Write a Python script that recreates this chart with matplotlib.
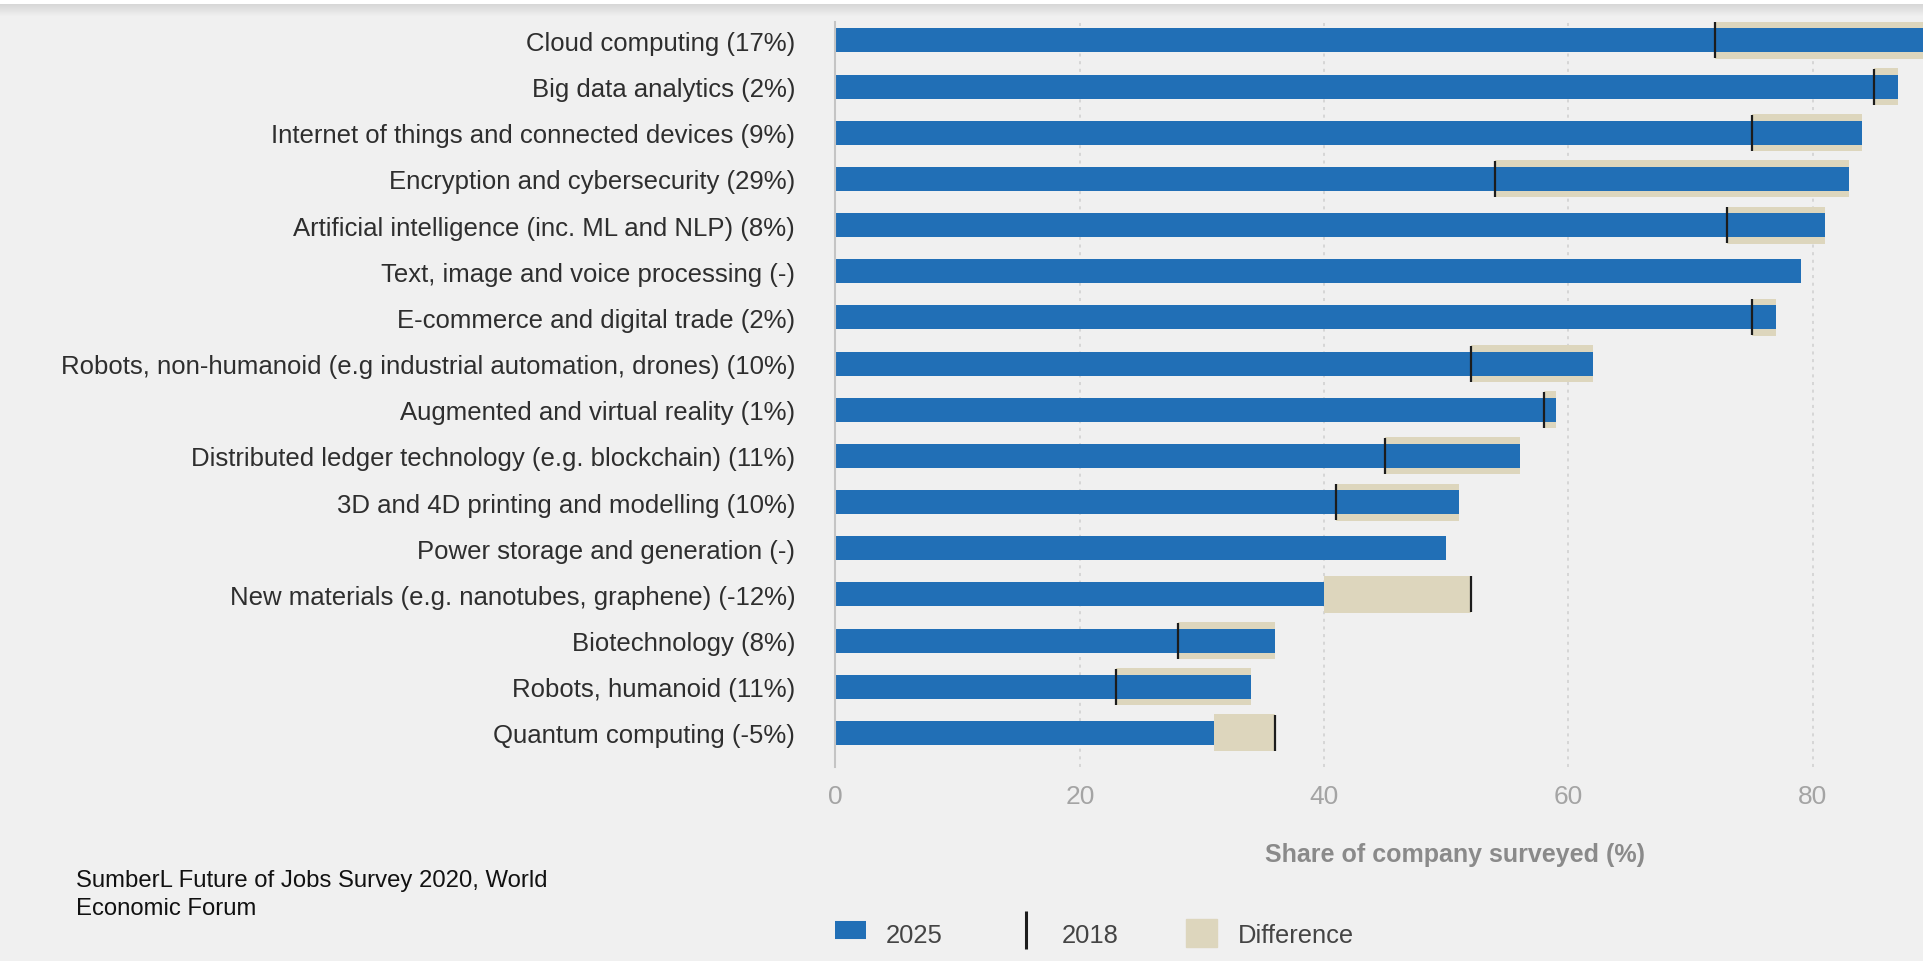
import numpy as np
import matplotlib
matplotlib.use("Agg")
import matplotlib.pyplot as plt
from matplotlib.patches import Patch
from matplotlib.lines import Line2D

plt.rcParams["font.family"] = ["Liberation Sans", "DejaVu Sans"]

labels = [
    "Cloud computing (17%)",
    "Big data analytics (2%)",
    "Internet of things and connected devices (9%)",
    "Encryption and cybersecurity (29%)",
    "Artificial intelligence (inc. ML and NLP) (8%)",
    "Text, image and voice processing (-)",
    "E-commerce and digital trade (2%)",
    "Robots, non-humanoid (e.g industrial automation, drones) (10%)",
    "Augmented and virtual reality (1%)",
    "Distributed ledger technology (e.g. blockchain) (11%)",
    "3D and 4D printing and modelling (10%)",
    "Power storage and generation (-)",
    "New materials (e.g. nanotubes, graphene) (-12%)",
    "Biotechnology (8%)",
    "Robots, humanoid (11%)",
    "Quantum computing (-5%)",
]
share_2025 = [89, 87, 84, 83, 81, 79, 77, 62, 59, 56, 51, 50, 40, 36, 34, 31]
share_2018 = [72, 85, 75, 54, 73, np.nan, 75, 52, 58, 45, 41, np.nan, 52, 28, 23, 36]
xticks = [0, 20, 40, 60, 80]

BG = "#f0f0f0"
BLUE = "#216fb6"
BEIGE = "#ddd6bd"

v25 = np.array(share_2025, dtype=float)
v18 = np.array(share_2018, dtype=float)
y = np.arange(len(labels))

fig = plt.figure(figsize=(19.24, 9.62), dpi=100, facecolor=BG)
ax = fig.add_axes([835.5 / 1924, 1 - 768 / 962, 1 - 835.5 / 1924, (768 - 23) / 962])
ax.set_facecolor(BG)

has18 = ~np.isnan(v18)
lo = np.minimum(v25, v18)
ax.barh(y[has18], np.abs(v25 - v18)[has18], left=lo[has18], height=0.8,
        color=BEIGE, zorder=1)
ax.barh(y, v25, height=0.52, color=BLUE, zorder=2)
ax.vlines(v18[has18], y[has18] - 0.39, y[has18] + 0.39, color="#1c1c1c",
          lw=1.6, zorder=3)

ax.set_xlim(0, 89.1)
ax.set_ylim(15.74, -0.4)
ax.set_yticks(y)
ax.set_yticklabels(labels, fontsize=18.5, color="#2e2e2e")
ax.set_xticks(xticks)
ax.set_xticklabels([str(t) for t in xticks], fontsize=19, color="#a4a4a4")
ax.tick_params(axis="y", length=0, pad=29)
ax.tick_params(axis="x", length=0, pad=12.5)
ax.grid(axis="x", color="#cfcfcf", ls=(0, (2, 3)), lw=1.1)
ax.grid(axis="y", visible=False)
ax.set_axisbelow(True)
for s in ("top", "right", "bottom"):
    ax.spines[s].set_visible(False)
ax.spines["left"].set_color("#c4c4c4")
ax.spines["left"].set_linewidth(1.5)

ax.set_xlabel("Share of company surveyed (%)", fontsize=18, fontweight="bold",
              color="#8a8a8a")
ax.xaxis.label.set_va("center")
ax.xaxis.set_label_coords(0.569, -(855 - 768) / 745)

fig.text(76 / 1924, 1 - 895 / 962, "SumberL Future of Jobs Survey 2020, World\nEconomic Forum",
         fontsize=17.2, color="#111111", va="center", linespacing=1.35,
         transform=fig.transFigure)

handles = [Line2D([], [], color=BLUE, lw=13, solid_capstyle="butt", label="2025"),
           Line2D([], [], color="#1c1c1c", marker="|", ls="none", markersize=27,
                  markeredgewidth=2.2, label="2018"),
           Patch(color=BEIGE, label="Difference")]
fig.legend(handles=handles, loc="center left", ncol=3, frameon=False,
           bbox_to_anchor=(835 / 1924, 1 - 934 / 962), fontsize=18.4,
           labelcolor="#444444", handlelength=1.2, handleheight=1.35,
           handletextpad=0.8, columnspacing=2.65, borderpad=0, borderaxespad=0)

# top shadow strip
sh = fig.add_axes([0, 1 - 18 / 962, 1, 18 / 962])
grad = np.concatenate([np.full(5, 1.0), np.linspace(0.84, 0.94, 13)])[:, None]
sh.imshow(np.repeat(grad, 4, axis=1), cmap="gray", vmin=0, vmax=1,
          aspect="auto", extent=[0, 1, 0, 1])
sh.axis("off")

fig.savefig("out.png", dpi=100, facecolor=BG)
